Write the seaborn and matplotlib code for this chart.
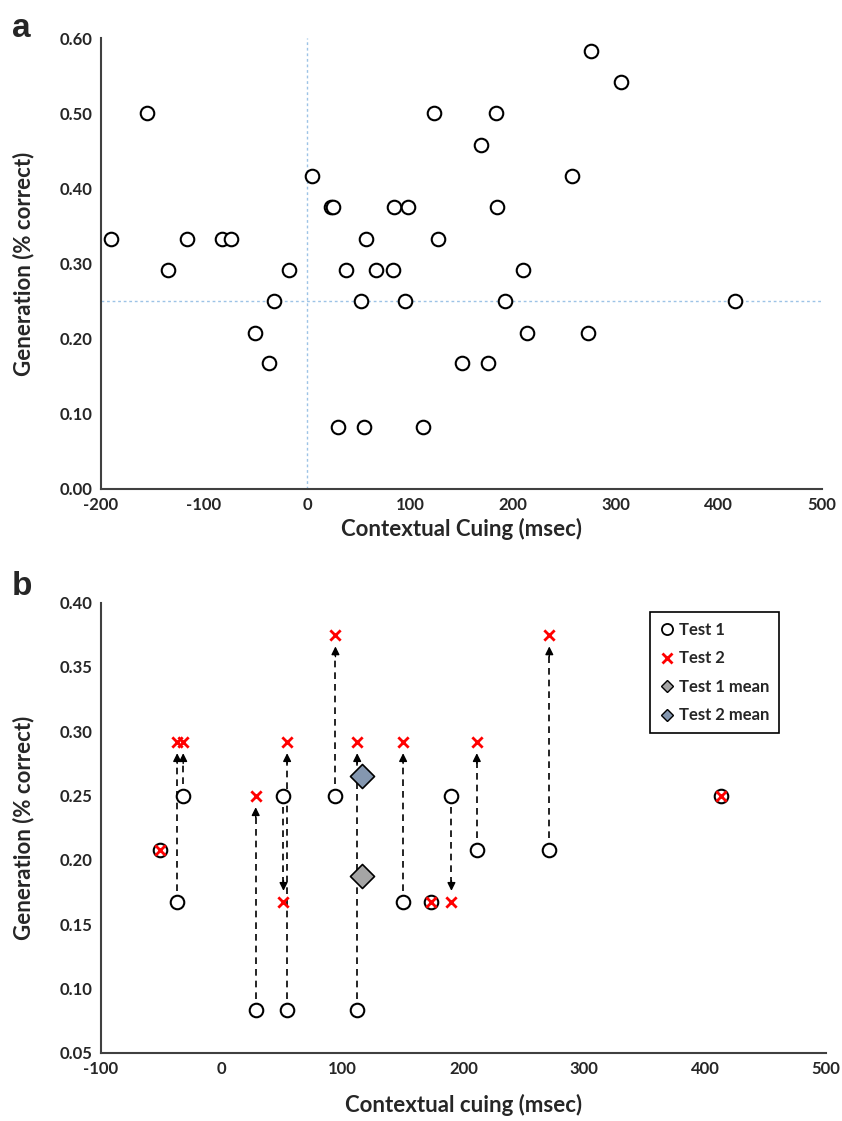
import numpy as np
import pandas as pd
import matplotlib
matplotlib.use("Agg")
import matplotlib.pyplot as plt
from matplotlib.lines import Line2D
import seaborn as sns

# panel a: contextual cuing vs generation
cuing_a = [276, 305, -155, 123, 184, 169, 5, 257, 23, 25, 85, 98, 185,
           -190, -117, -83, -74, 57, 127, -135, -17, 38, 67, 84, 210,
           -32, 52, 95, 192, 416, -50, 214, 273, -37, 151, 176, 30, 55, 113]
gen_a = [0.583, 0.542, 0.5, 0.5, 0.5, 0.458, 0.417, 0.417,
         0.375, 0.375, 0.375, 0.375, 0.375,
         0.333, 0.333, 0.333, 0.333, 0.333, 0.333,
         0.292, 0.292, 0.292, 0.292, 0.292, 0.292,
         0.25, 0.25, 0.25, 0.25, 0.25,
         0.208, 0.208, 0.208, 0.167, 0.167, 0.167, 0.083, 0.083, 0.083]

# panel b: test 1 -> test 2 per participant
cuing_b = [-51, -37, -32, 28, 51, 54, 94, 112, 150, 173, 190, 211, 271, 413]
test1 = [0.208, 0.167, 0.25, 0.083, 0.25, 0.083, 0.25, 0.083, 0.167, 0.167, 0.25, 0.208, 0.208, 0.25]
test2 = [0.208, 0.292, 0.292, 0.25, 0.167, 0.292, 0.375, 0.292, 0.292, 0.167, 0.167, 0.292, 0.375, 0.25]

xticks_a = [-200, -100, 0, 100, 200, 300, 400, 500]
yticks_a = [0.0, 0.1, 0.2, 0.3, 0.4, 0.5, 0.6]
xticks_b = [-100, 0, 100, 200, 300, 400, 500]
yticks_b = [0.05, 0.10, 0.15, 0.20, 0.25, 0.30, 0.35, 0.40]

sns.set_style("white")
plt.rcParams['font.family'] = ['Lato', 'DejaVu Sans']
plt.rcParams['font.weight'] = 'bold'
plt.rcParams['axes.unicode_minus'] = False

fig = plt.figure(figsize=(8.42, 11.21), dpi=100)
ax1 = fig.add_axes([0.120, 0.5638, 0.856, 0.4022])
ax2 = fig.add_axes([0.120, 0.0607, 0.861, 0.4017])

df_a = pd.DataFrame({'cuing': cuing_a, 'gen': gen_a})
df_b = pd.DataFrame({'cuing': cuing_b, 'test1': test1, 'test2': test2})

# ---- panel a
guide = '#9dc3e6'
ax1.axvline(0, color=guide, ls=(0, (2, 2)), lw=1.0, zorder=1)
ax1.axhline(0.25, color=guide, ls=(0, (2, 2)), lw=1.0, zorder=1)
sns.scatterplot(data=df_a, x='cuing', y='gen', ax=ax1, marker='o', s=95,
                facecolor='white', edgecolor='black', linewidth=1.5, zorder=3)
ax1.set_xlim(-200, 500)
ax1.set_ylim(0, 0.6)
ax1.set_xticks(xticks_a)
ax1.set_yticks(yticks_a)
ax1.set_yticklabels([f'{v:.2f}' for v in yticks_a])
ax1.set_xlabel('Contextual Cuing (msec)', fontsize=16, fontweight='bold', labelpad=3)
ax1.set_ylabel('Generation (% correct)', fontsize=16, fontweight='bold', labelpad=18)

# ---- panel b
gap = 0.009
for x, y1, y2 in zip(cuing_b, test1, test2):
    if y1 == y2:
        continue
    d = np.sign(y2 - y1)
    start = y1 + d * gap
    end = y2 - d * gap
    ax2.plot([x, x], [start, end - d * 0.006], color='black', ls=(0, (4, 3)), lw=1.2, zorder=2)
    ax2.annotate('', xy=(x, end), xytext=(x, end - d * 0.008),
                 arrowprops=dict(arrowstyle='-|>', color='black', lw=1.0,
                                 mutation_scale=12, shrinkA=0, shrinkB=0), zorder=2)

sns.scatterplot(data=df_b, x='cuing', y='test1', ax=ax2, marker='o', s=95,
                facecolor='white', edgecolor='black', linewidth=1.5, zorder=3)
sns.scatterplot(data=df_b, x='cuing', y='test2', ax=ax2, marker='x', s=55,
                color='#ff0000', linewidth=2.0, zorder=4)
mean_x = df_b['cuing'].mean()
ax2.scatter([mean_x], [df_b['test1'].mean()], marker='D', s=150, facecolor='#a5a5a5',
            edgecolor='black', linewidth=1.2, zorder=5)
ax2.scatter([mean_x], [df_b['test2'].mean()], marker='D', s=150, facecolor='#8497b0',
            edgecolor='black', linewidth=1.2, zorder=5)

ax2.set_xlim(-100, 500)
ax2.set_ylim(0.05, 0.40)
ax2.set_xticks(xticks_b)
ax2.set_yticks(yticks_b)
ax2.set_yticklabels([f'{v:.2f}' for v in yticks_b])
ax2.set_xlabel('Contextual cuing (msec)', fontsize=16, fontweight='bold', labelpad=12)
ax2.set_ylabel('Generation (% correct)', fontsize=16, fontweight='bold', labelpad=18)

handles = [
    Line2D([], [], ls='', marker='o', ms=8, mfc='white', mec='black', mew=1.3),
    Line2D([], [], ls='', marker='x', ms=7, color='#ff0000', mew=2.0),
    Line2D([], [], ls='', marker='D', ms=6, mfc='#a5a5a5', mec='black', mew=1.0),
    Line2D([], [], ls='', marker='D', ms=6, mfc='#8497b0', mec='black', mew=1.0),
]
leg = ax2.legend(handles, ['Test 1', 'Test 2', 'Test 1 mean', 'Test 2 mean'],
                 loc='upper left', bbox_to_anchor=(0.746, 0.998), fancybox=False,
                 edgecolor='black', framealpha=1, handlelength=0.8, handletextpad=0.3,
                 labelspacing=0.75, borderpad=0.6, prop={'size': 12, 'weight': 'bold'})
leg.get_frame().set_linewidth(1.2)

for ax in (ax1, ax2):
    sns.despine(ax=ax)
    for s in ('left', 'bottom'):
        ax.spines[s].set_color('#404040')
        ax.spines[s].set_linewidth(1.5)
    ax.tick_params(length=0, labelsize=12, pad=6)
    for lab in ax.get_xticklabels() + ax.get_yticklabels():
        lab.set_fontweight('bold')

fig.text(0.014, 0.967, 'a', fontsize=24, fontweight='bold', family=['Liberation Sans', 'DejaVu Sans'])
fig.text(0.014, 0.469, 'b', fontsize=24, fontweight='bold', family=['Liberation Sans', 'DejaVu Sans'])

fig.savefig('out.png', dpi=100)
